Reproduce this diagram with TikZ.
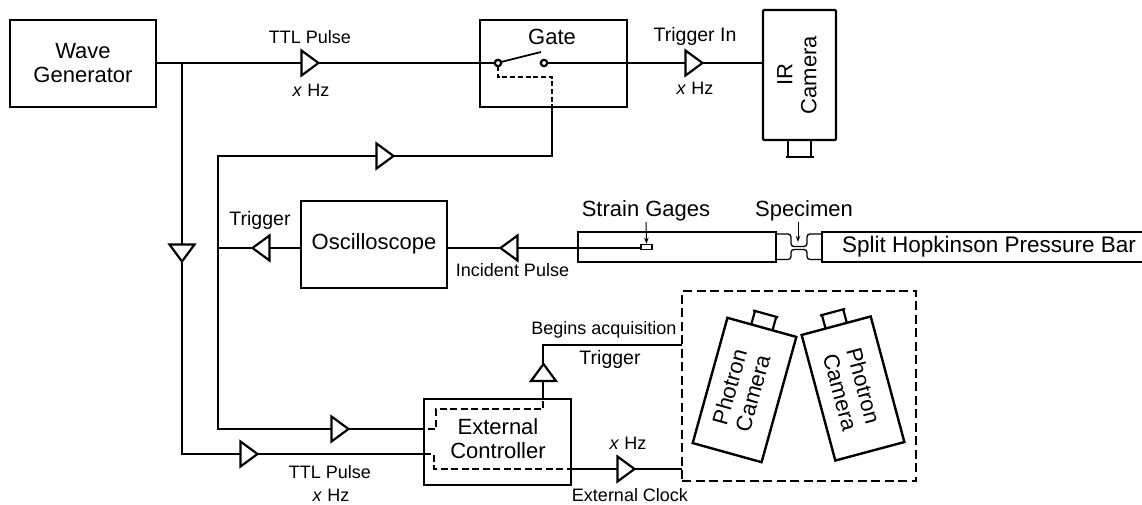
\documentclass[tikz,border=0pt]{standalone}
\usepackage{fontspec}
\setmainfont{Liberation Sans}
\usetikzlibrary{arrows.meta}
\tikzset{
 x=1pt,y=-1pt,
 wire/.style={line width=2.2pt,line join=miter},
 box/.style={draw,line width=2.4pt,inner sep=0pt,align=center},
 lab/.style={inner sep=0pt,font=\fontsize{18}{22}\selectfont},
 trg/.style={inner sep=0pt,font=\fontsize{19.5}{22}\selectfont},
 big/.style={inner sep=0pt,align=center,font=\fontsize{22}{24}\selectfont},
 dashlarge/.style={line width=2.2pt,dash pattern=on 9pt off 4.5pt},
 dashmid/.style={line width=2.2pt,dash pattern=on 7pt off 3.5pt},
 dashsmall/.style={line width=2.2pt,dash pattern=on 5pt off 2.7pt},
 tri/.style={draw,fill=white,line width=2.2pt,line join=miter},
 ptr/.style={line width=1pt,-{Stealth[length=6pt,width=4.5pt]}},
 spec/.style={line width=1.3pt},
 lens/.style={line width=2.2pt},
}
\newcommand{\rtri}[2]{\draw[tri] (#1-8.5,#2-12.5) -- (#1+8.5,#2) -- (#1-8.5,#2+12.5) -- cycle;}
\newcommand{\ltri}[2]{\draw[tri] (#1+8.5,#2-12.5) -- (#1-8.5,#2) -- (#1+8.5,#2+12.5) -- cycle;}
\newcommand{\utri}[2]{\draw[tri] (#1-12.5,#2+8.5) -- (#1,#2-8.5) -- (#1+12.5,#2+8.5) -- cycle;}
\newcommand{\dtri}[2]{\draw[tri] (#1-12.5,#2-8.5) -- (#1,#2+8.5) -- (#1+12.5,#2-8.5) -- cycle;}
\begin{document}
\begin{tikzpicture}
\useasboundingbox (0,0) rectangle (1142,505);
% boxes
\node[box,minimum width=146pt,minimum height=87pt] (wave) at (83,63.5) {};
\node[big] (wavel) at (83,63.5) {Wave\\Generator};
\node[box,minimum width=147pt,minimum height=87pt] (gate) at (553.5,63.5) {};
\node[big] (gatel) at (552,37) {Gate};
\node[box,rounded corners=1pt,minimum width=73pt,minimum height=130pt] (ir) at (799.5,75) {};
\node[big,rotate=90] (irl) at (797,75) {IR\\Camera};
\node[box,minimum width=146pt,minimum height=87pt] (osc) at (374,244.5) {};
\node[big] (oscl) at (374,244) {Oscilloscope};
\node[box,minimum width=147pt,minimum height=86pt] (ctrl) at (497.5,442) {};
\node[big] (ctrll) at (498,439) {External\\Controller};
\node[draw,dashlarge,minimum width=234pt,minimum height=190pt,inner sep=0pt] (encl) at (799,386) {};
% wire coordinates
\coordinate (wo) at (156,63);
\coordinate (j1) at (182,63);
\coordinate (t1) at (498,63);
\coordinate (t2) at (544,63);
\coordinate (iri) at (763,63);
\coordinate (c1) at (182,454);
\coordinate (ci2) at (424,454);
\coordinate (g1) at (552,107);
\coordinate (g2) at (552,156);
\coordinate (c2) at (218,156);
\coordinate (c3) at (218,429);
\coordinate (ci1) at (424,429);
\coordinate (o1) at (218,248);
\coordinate (ow) at (301,248);
\coordinate (oe) at (447,248);
\coordinate (ge) at (641,248);
\coordinate (a1) at (543,399);
\coordinate (a2) at (543,345);
\coordinate (a3) at (682,345);
\coordinate (k1) at (571,469);
\coordinate (k2) at (682,469);
\draw[wire] (wo) -- (t1);
\draw[wire] (t2) -- (iri);
\draw[wire] (j1) -- (c1) -- (ci2);
\draw[wire] (g1) -- (g2) -- (c2) -- (c3) -- (ci1);
\draw[wire] (ow) -- (o1);
\draw[wire] (oe) -- (ge);
\draw[wire] (a1) -- (a2) -- (a3);
\draw[wire] (k1) -- (k2);
% switch
\draw[line width=1.8pt] (501,62) -- (541,52);
\draw[dashsmall] (498,66) -- (498,77) -- (552,77) -- (552,107);
\draw[wire,fill=white] (t1) circle (3.2pt);
\draw[wire,fill=white] (t2) circle (3.2pt);
% dashed in controller
\draw[dashmid] (428,429) -- (436,429) -- (436,409) -- (543,409) -- (543,399);
\draw[dashmid] (424,454) -- (434,454) -- (434,469) -- (571,469);
% triangles
\rtri{310}{63}
\rtri{694}{63}
\rtri{385}{156}
\ltri{261}{248}
\ltri{509}{248}
\dtri{182}{253}
\rtri{340}{429}
\rtri{249}{454}
\utri{543.5}{372.5}
\rtri{626}{469}
% bars
\node[draw,line width=2.4pt,minimum width=198pt,minimum height=30pt,inner sep=0pt] (bar1) at (677,247) {};
\coordinate (b1) at (1142,232);
\coordinate (b2) at (822,232);
\coordinate (b3) at (822,262);
\coordinate (b4) at (1142,262);
\draw[line width=2.4pt] (b1) -- (b2) -- (b3) -- (b4);
\node[inner sep=0pt,font=\fontsize{22.5}{24}\selectfont] (barl) at (989,247) {Split Hopkinson Pressure Bar};
\node[draw,fill=white,line width=1.6pt,minimum width=11pt,minimum height=5pt,inner sep=0pt] (gage) at (646.5,247) {};
\draw[spec,rounded corners=3pt] (777,234) -- (791,234) -- (791,246.5) -- (807,246.5) -- (807,234) -- (822,234);
\draw[spec,rounded corners=3pt] (777,259.5) -- (791,259.5) -- (791,249.5) -- (807,249.5) -- (807,259.5) -- (822,259.5);
\node[big] (sg) at (646,211) {Strain Gages};
\node[big] (sp) at (804,211) {Specimen};
\coordinate (sa) at (798,222);
\coordinate (sb) at (798,242);
\coordinate (ga) at (646,222);
\draw[ptr] (ga) -- (gage.north);
\draw[ptr] (sa) -- (sb);
% IR lens
\draw[lens] (788,141) -- (788,157) (811,141) -- (811,157);
\draw[lens] (786,157) -- (814,157);
% cameras
\node[box,minimum width=71.5pt,minimum height=130pt,rotate=-15.5] (c1box) at (744.5,390) {};
\node[big,rotate=74.5] (c1l) at (741,390) {Photron\\Camera};
\begin{scope}[shift={(744.5,390)},rotate=-15.5]
\draw[lens] (-11,-65) -- (-11,-79) (11,-65) -- (11,-79);
\draw[lens] (-13,-79) -- (13,-79);
\end{scope}
\node[box,minimum width=71.5pt,minimum height=130pt,rotate=15] (c2box) at (853,388.5) {};
\node[big,rotate=-75] (c2l) at (852,389) {Photron\\Camera};
\begin{scope}[shift={(853,388.5)},rotate=15]
\draw[lens] (-11,-65) -- (-11,-79) (11,-65) -- (11,-79);
\draw[lens] (-13,-79) -- (13,-79);
\end{scope}
% labels
\node[lab] (l1) at (310,37) {TTL Pulse};
\node[lab] (l2) at (311,90) {\textit{x} Hz};
\node[trg] (l3) at (695,36) {Trigger In};
\node[lab] (l4) at (695,88) {\textit{x} Hz};
\node[trg] (l5) at (260,220) {Trigger};
\node[lab] (l6) at (512.5,270) {Incident Pulse};
\node[lab] (l7) at (604,330) {Begins acquisition};
\node[trg] (l8) at (610,359) {Trigger};
\node[lab] (l9) at (628,443) {\textit{x} Hz};
\node[lab] (l10) at (630,495) {External Clock};
\node[lab] (l11) at (330,472) {TTL Pulse};
\node[lab] (l12) at (331,495) {\textit{x} Hz};
\end{tikzpicture}
\end{document}
